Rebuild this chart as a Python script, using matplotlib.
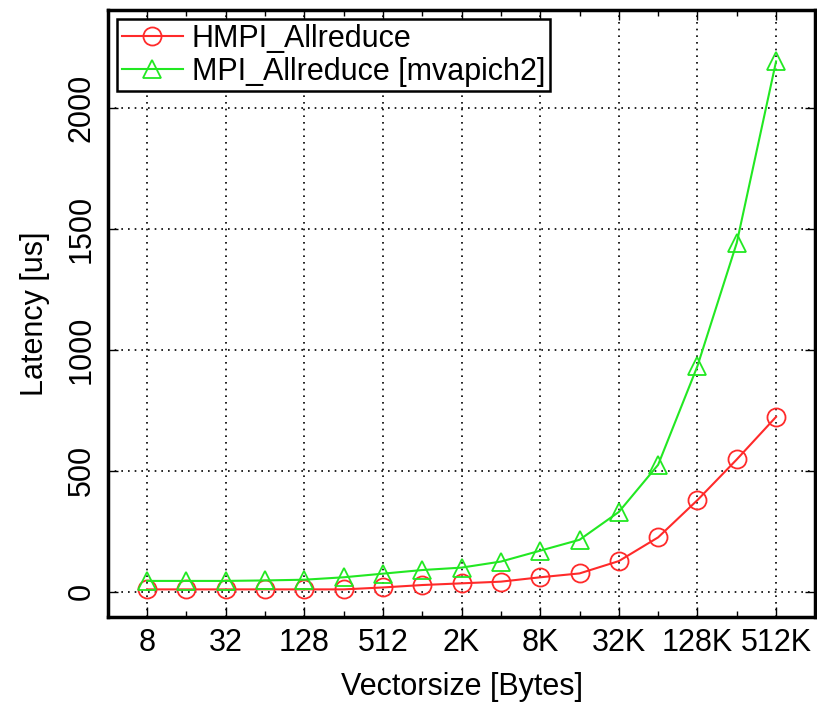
import matplotlib.pyplot as plt
from matplotlib.ticker import NullFormatter

plt.rcParams['font.family'] = ['Liberation Sans', 'DejaVu Sans']

# message sizes in bytes (8 .. 512K)
sizes = [8, 16, 32, 64, 128, 256, 512, 1024, 2048, 4096, 8192,
         16384, 32768, 65536, 131072, 262144, 524288]

hmpi = [10, 10, 10, 10, 10, 10, 18, 28, 35, 42, 60, 76, 127, 225, 379, 547, 723]
mvapich = [45, 45, 45, 47, 50, 60, 75, 90, 100, 125, 170, 215, 330, 525, 933, 1442, 2192]

tick_vals = [8, 32, 128, 512, 2048, 8192, 32768, 131072, 524288]
tick_labels = ['8', '32', '128', '512', '2K', '8K', '32K', '128K', '512K']
minor_vals = [16, 64, 256, 1024, 4096, 16384, 65536, 262144]

fs = 22

fig = plt.figure(figsize=(8.17, 7.07), dpi=100)
ax = fig.add_axes([0.132, 0.127, 0.866, 0.859])

ax.plot(sizes, hmpi, '-o', color='#ff2a2a', mfc='none', mec='#ff2a2a',
        ms=13, mew=1.3, lw=1.5, label='HMPI_Allreduce')
ax.plot(sizes, mvapich, '-^', color='#22e822', mfc='none', mec='#22e822',
        ms=13, mew=1.3, lw=1.5, label='MPI_Allreduce [mvapich2]')

ax.set_xscale('log', base=2)
ax.set_xlim(4, 2**20)
ax.set_ylim(-105, 2405)
ax.set_xticks(tick_vals, tick_labels)
ax.set_xticks(minor_vals, minor=True)
ax.xaxis.set_minor_formatter(NullFormatter())
ax.set_yticks([0, 500, 1000, 1500, 2000])
ax.tick_params(axis='y', labelrotation=90)
for lab in ax.get_yticklabels():
    lab.set_va('center')

ax.tick_params(which='both', direction='in', top=True, right=True, labelsize=fs)
ax.tick_params(which='major', length=7, width=1, pad=8)
ax.tick_params(which='minor', length=4, width=1)
ax.grid(True, which='major', color='black', linestyle=(0, (1, 3)), linewidth=1.2)

for s in ax.spines.values():
    s.set_linewidth(2.5)

ax.set_xlabel('Vectorsize [Bytes]', fontsize=fs, labelpad=10)
ax.set_ylabel('Latency [us]', fontsize=fs, labelpad=12)

leg = ax.legend(loc='upper left', fontsize=fs, frameon=True, fancybox=False,
                edgecolor='black', framealpha=1, handlelength=2.0,
                borderaxespad=0.3, borderpad=0.15, labelspacing=0.1, handletextpad=0.3)
leg.get_frame().set_linewidth(1.8)

fig.savefig('out.png', dpi=100)
